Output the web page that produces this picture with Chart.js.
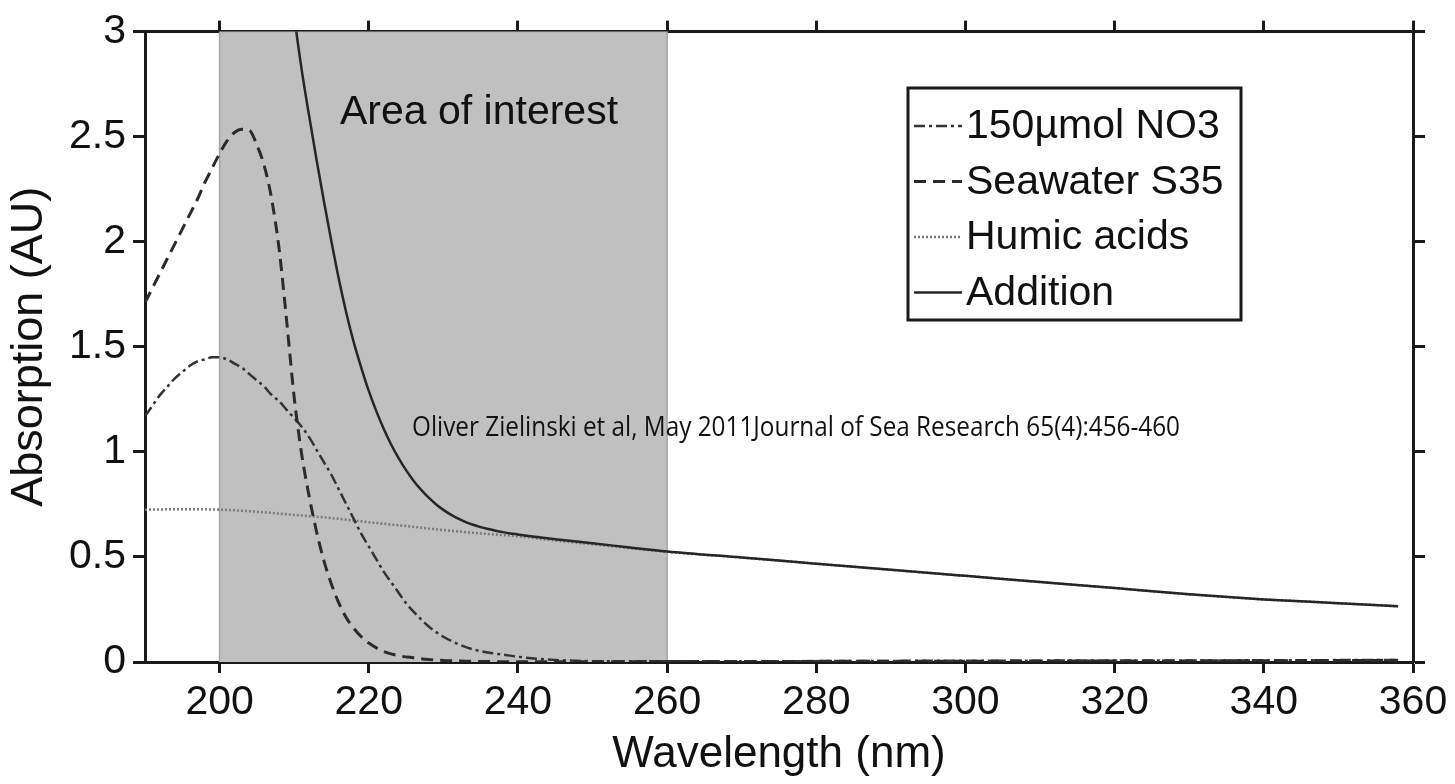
<!DOCTYPE html>
<html>
<head>
<meta charset="utf-8">
<title>Absorption spectra</title>
<script src="https://cdn.jsdelivr.net/npm/chart.js@4.4.1/dist/chart.umd.min.js"></script>
<style>
    html, body { margin: 0; padding: 0; background: #fff; }
    #wrap { width: 1455px; height: 784px; }
</style>
</head>
<body>
<div id="wrap"><canvas id="absChart" width="1455" height="784"></canvas></div>
<script>
// Axis ticks
const xTickValues = [200, 220, 240, 260, 280, 300, 320, 340, 360];
const yTickValues = [0, 0.5, 1, 1.5, 2, 2.5, 3];
const yTickLabels = ['0', '0.5', '1', '1.5', '2', '2.5', '3'];

// Shaded "area of interest" band (nm / AU corners)
const bandNm = [200, 200, 260, 260];
const bandAbs = [0, 3, 3, 0];

// 150 umol NO3
const no3Nm = [190, 191, 192, 193, 194, 195, 196, 197, 198, 199, 200, 201, 202, 203, 204, 205, 206, 207, 208, 209,
    210, 211, 212, 213, 214, 215, 216, 217, 218, 219, 220, 221, 222, 223, 224, 225, 226, 228, 230, 232, 234, 236,
    238, 240, 244, 250, 260, 300, 340, 358];
const no3Abs = [1.17, 1.22, 1.27, 1.31, 1.35, 1.38, 1.41, 1.43, 1.44, 1.45, 1.45, 1.44, 1.42, 1.40, 1.37, 1.34, 1.31, 1.27, 1.24, 1.20,
    1.16, 1.12, 1.07, 1.01, 0.95, 0.89, 0.82, 0.75, 0.68, 0.61, 0.55, 0.49, 0.43, 0.38, 0.33, 0.28, 0.24, 0.17, 0.12, 0.085, 0.06, 0.045,
    0.035, 0.025, 0.012, 0.004, 0.003, 0.006, 0.008, 0.01];

// Seawater S35
const seaNm = [190, 191, 192, 193, 194, 195, 196, 197, 198, 199, 200, 201, 202, 203, 204, 205, 206, 207, 208, 209,
    210, 211, 212, 213, 214, 215, 216, 217, 218, 219, 220, 222, 224, 226, 228, 230, 233, 236, 240, 260, 300, 340, 358];
const seaAbs = [1.71, 1.78, 1.85, 1.92, 1.99, 2.06, 2.13, 2.20, 2.28, 2.35, 2.42, 2.48, 2.52, 2.535, 2.53, 2.46, 2.36, 2.20, 1.96, 1.62,
    1.26, 0.99, 0.79, 0.62, 0.48, 0.37, 0.28, 0.21, 0.16, 0.12, 0.09, 0.05, 0.03, 0.02, 0.012, 0.007, 0.004, 0.002, 0.001, 0.002, 0.004, 0.006, 0.008];

// Humic acids
const humicNm = [190, 195, 200, 205, 210, 215, 220, 225, 230, 235, 240, 245, 250, 255, 260, 270, 280, 290, 300, 310, 320, 330, 340, 350, 358];
const humicAbs = [0.725, 0.727, 0.725, 0.715, 0.70, 0.685, 0.665, 0.647, 0.628, 0.612, 0.598, 0.578, 0.56, 0.542, 0.524,
    0.497, 0.468, 0.439, 0.41, 0.381, 0.352, 0.322, 0.298, 0.28, 0.265];

// Addition (sum)
const sumNm = [209, 210, 211, 212, 213, 214, 215, 216, 217, 218, 219, 220, 221, 222, 223, 224, 225, 226, 227, 228, 229, 230,
    231, 232, 233, 234, 235, 236, 237, 238, 239, 240, 242, 245, 250, 255, 260, 270, 280, 290, 300, 310, 320, 330, 340, 350, 358];
const sumAbs = [3.42, 3.08, 2.82, 2.60, 2.39, 2.19, 2.00, 1.82, 1.66, 1.52, 1.40, 1.29, 1.195, 1.11, 1.035, 0.97, 0.913, 0.863, 0.82, 0.783, 0.751, 0.724,
    0.701, 0.682, 0.666, 0.653, 0.642, 0.633, 0.625, 0.618, 0.612, 0.607, 0.597, 0.584, 0.565, 0.545, 0.526, 0.497, 0.468, 0.439, 0.41, 0.381,
    0.352, 0.322, 0.298, 0.28, 0.265];

const FONT = '"Liberation Sans", Arial, Helvetica, sans-serif';
const INK = '#1a1a1a';

const pts = (xs, ys) => xs.map((x, i) => ({ x: x, y: ys[i] }));

const setTicks = (values) => (axis) => { axis.ticks = values.map(v => ({ value: v })); };

// legend box + text overlays
const overlayPlugin = {
    id: 'overlay',
    afterDatasetsDraw(chart) {
        const ctx = chart.ctx;
        ctx.save();
        ctx.fillStyle = '#111';
        ctx.font = '41px ' + FONT;
        ctx.textBaseline = 'middle';
        ctx.fillText('Area of interest', 340, 113);

        ctx.font = '27px "Open Sans", sans-serif';
        ctx.textBaseline = 'alphabetic';
        ctx.fillText('Oliver Zielinski et al, May 2011Journal of Sea Research 65(4):456-460', 412, 436, 768);
        ctx.restore();
    },
    afterDraw(chart) {
        const ctx = chart.ctx;
        const box = { x: 908, y: 88, w: 333, h: 232 };
        ctx.save();
        ctx.fillStyle = '#fff';
        ctx.fillRect(box.x, box.y, box.w, box.h);
        ctx.lineWidth = 3;
        ctx.strokeStyle = INK;
        ctx.strokeRect(box.x, box.y, box.w, box.h);

        const order = [1, 2, 3, 4];
        ctx.font = '41px ' + FONT;
        ctx.textBaseline = 'middle';
        order.forEach((di, row) => {
            const ds = chart.data.datasets[di];
            const y = 126 + row * 55.5;
            ctx.save();
            ctx.strokeStyle = ds.borderColor;
            ctx.lineWidth = ds.borderWidth;
            ctx.setLineDash(ds.borderDash || []);
            ctx.beginPath();
            ctx.moveTo(914, y);
            ctx.lineTo(962, y);
            ctx.stroke();
            ctx.restore();
            ctx.fillStyle = '#111';
            ctx.fillText(ds.label, 966, y + 1);
        });
        ctx.restore();
    }
};

const lineBase = {
    pointRadius: 0,
    fill: false,
    cubicInterpolationMode: 'monotone'
};

new Chart(document.getElementById('absChart').getContext('2d'), {
    type: 'line',
    data: {
        datasets: [
            {
                label: 'band',
                data: pts(bandNm, bandAbs),
                pointRadius: 0,
                borderColor: '#a3a3a3',
                borderWidth: 1.5,
                backgroundColor: '#c0c0c0',
                fill: 'origin',
                tension: 0,
                order: 10
            },
            Object.assign({}, lineBase, {
                label: '150µmol NO3',
                data: pts(no3Nm, no3Abs),
                borderColor: '#333333',
                borderWidth: 2.5,
                borderDash: [11, 4, 3, 4],
                order: 3
            }),
            Object.assign({}, lineBase, {
                label: 'Seawater S35',
                data: pts(seaNm, seaAbs),
                borderColor: '#2b2b2b',
                borderWidth: 3,
                borderDash: [12, 7],
                order: 2
            }),
            Object.assign({}, lineBase, {
                label: 'Humic acids',
                data: pts(humicNm, humicAbs),
                borderColor: '#7a7a7a',
                borderWidth: 2.5,
                borderDash: [2, 2],
                order: 4
            }),
            Object.assign({}, lineBase, {
                label: 'Addition',
                data: pts(sumNm, sumAbs),
                borderColor: '#262626',
                borderWidth: 2.5,
                order: 1
            })
        ]
    },
    options: {
        responsive: false,
        animation: false,
        layout: { padding: 0 },
        plugins: {
            legend: { display: false },
            tooltip: { enabled: false }
        },
        scales: {
            x: {
                type: 'linear',
                position: 'bottom',
                min: 190,
                max: 360,
                z: 1,
                afterBuildTicks: setTicks(xTickValues),
                afterFit: (s) => { s.height = 122; },
                border: { display: true, color: INK, width: 3 },
                grid: { drawOnChartArea: false, drawTicks: true, tickLength: 11, tickWidth: 3, tickColor: INK },
                ticks: { color: '#111', padding: 5, maxRotation: 0, font: { family: FONT, size: 41 } },
                title: {
                    display: true,
                    text: 'Wavelength (nm)',
                    color: '#111',
                    font: { family: FONT, size: 44 },
                    padding: { top: 0, bottom: 3 }
                }
            },
            x2: {
                type: 'linear',
                position: 'top',
                min: 190,
                max: 360,
                z: 1,
                afterBuildTicks: setTicks(xTickValues),
                afterFit: (s) => { s.height = 27; },
                border: { display: true, color: INK, width: 3 },
                grid: { drawOnChartArea: false, drawTicks: true, tickLength: 11, tickWidth: 3, tickColor: INK },
                ticks: { display: false }
            },
            y: {
                type: 'linear',
                position: 'left',
                min: 0,
                max: 3,
                z: 1,
                afterBuildTicks: setTicks(yTickValues),
                afterFit: (s) => { s.width = 145; },
                border: { display: true, color: INK, width: 3 },
                grid: { drawOnChartArea: false, drawTicks: true, tickLength: 12, tickWidth: 3, tickColor: INK },
                ticks: {
                    color: '#111',
                    padding: 7,
                    font: { family: FONT, size: 41 },
                    callback: (v, i) => yTickLabels[i]
                },
                title: {
                    display: true,
                    text: 'Absorption (AU)',
                    color: '#111',
                    font: { family: FONT, size: 45 },
                    padding: { top: 3, bottom: 0 }
                }
            },
            y2: {
                type: 'linear',
                position: 'right',
                min: 0,
                max: 3,
                z: 1,
                afterBuildTicks: setTicks(yTickValues),
                afterFit: (s) => { s.width = 42; },
                border: { display: true, color: INK, width: 3 },
                grid: { drawOnChartArea: false, drawTicks: true, tickLength: 12, tickWidth: 3, tickColor: INK },
                ticks: { display: false }
            }
        }
    },
    plugins: [overlayPlugin]
});
</script>
</body>
</html>
